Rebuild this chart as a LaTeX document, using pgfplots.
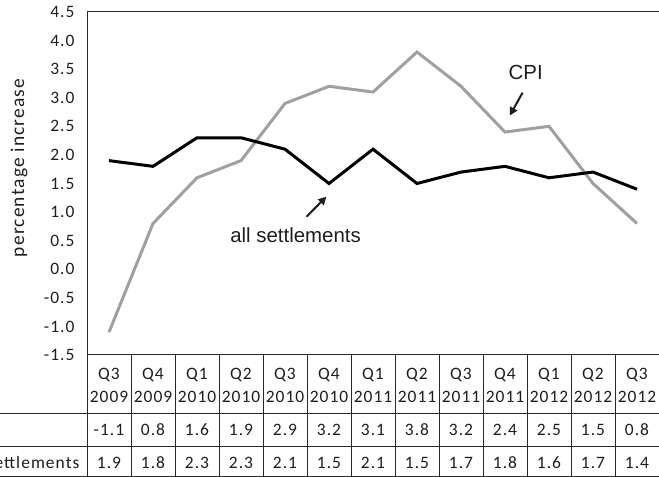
\documentclass[border=0pt]{standalone}
\usepackage{fontspec}
\setmainfont{Carlito}
\newfontfamily\tabfont[LetterSpace=6]{Carlito}
\newfontfamily\arialfont{Liberation Sans}
\usepackage{pgfplots}
\pgfplotsset{compat=1.18}
\usepackage{pgfplotstable}
\usetikzlibrary{arrows.meta}

\definecolor{cpigray}{RGB}{160,160,160}
\definecolor{frame}{RGB}{40,40,40}
\definecolor{txt}{RGB}{30,30,30}

% quarter, year, CPI, all settlements
\pgfplotstableread{
x q yr cpi all
0 Q3 2009 -1.1 1.9
1 Q4 2009 0.8 1.8
2 Q1 2010 1.6 2.3
3 Q2 2010 1.9 2.3
4 Q3 2010 2.9 2.1
5 Q4 2010 3.2 1.5
6 Q1 2011 3.1 2.1
7 Q2 2011 3.8 1.5
8 Q3 2011 3.2 1.7
9 Q4 2011 2.4 1.8
10 Q1 2012 2.5 1.6
11 Q2 2012 1.5 1.7
12 Q3 2012 0.8 1.4
}\data

\begin{document}
\begin{tikzpicture}
\useasboundingbox (0,0) rectangle (659bp,477bp);
\begin{axis}[
  at={(87bp,122bp)}, anchor=south west,
  scale only axis, width=572bp, height=343bp,
  xmin=-0.5, xmax=12.5, ymin=-1.5, ymax=4.5,
  xtick=\empty,
  ytick={-1.5,-1,...,4.5},
  yticklabels={-1.5,-1.0,-0.5,0.0,0.5,1.0,1.5,2.0,2.5,3.0,3.5,4.0,4.5},
  yticklabel style={font=\fontsize{17.5}{20}\selectfont\tabfont, text=txt, xshift=-9bp},
  major tick length=0pt,
  axis line style={frame, line width=1bp},
  clip=false,
]
\addplot[cpigray, line width=3bp] table[x=x,y=cpi]{\data};
\addplot[black, line width=3bp] table[x=x,y=all]{\data};

\node[font=\fontsize{20.5}{24}\selectfont\arialfont, text=txt] at (axis cs:4.24,0.6) {all settlements};
\node[font=\fontsize{20.5}{24}\selectfont\arialfont, text=txt] at (axis cs:9.47,3.44) {CPI};
\draw[txt, line width=2bp, -{Triangle[length=8bp,width=8bp]}] (axis cs:4.49,0.92) -- (axis cs:4.94,1.27);
\draw[txt, line width=2bp, -{Triangle[length=8bp,width=8bp]}] (axis cs:9.40,3.09) -- (axis cs:9.11,2.69);
\end{axis}

% y label
\node[rotate=90, font=\fontsize{19.5}{22}\selectfont\tabfont, text=txt] at (19bp,309bp) {percentage increase};

% data table below the plot
\draw[frame, line width=1bp] (87bp,122bp) -- (87bp,0bp);
\foreach \k in {1,...,13}{
  \pgfmathsetmacro\xx{87+44*\k}
  \draw[frame, line width=1bp] (\xx bp,122bp) -- (\xx bp,0bp);
}
\draw[frame, line width=1bp] (0bp,63bp) -- (659bp,63bp);
\draw[frame, line width=1bp] (0bp,30bp) -- (659bp,30bp);
\draw[frame, line width=1bp] (0bp,0.5bp) -- (659bp,0.5bp);

\foreach \i in {0,...,12}{
  \pgfmathsetmacro\xc{87+44*\i+22}
  \pgfplotstablegetelem{\i}{q}\of\data \let\vq\pgfplotsretval
  \pgfplotstablegetelem{\i}{yr}\of\data \let\vy\pgfplotsretval
  \pgfplotstablegetelem{\i}{cpi}\of\data \let\vc\pgfplotsretval
  \pgfplotstablegetelem{\i}{all}\of\data \let\va\pgfplotsretval
  \begin{scope}[every node/.style={font=\fontsize{17.5}{20}\selectfont\tabfont, text=txt}]
    \node at (\xc bp,102bp) {\vq};
    \node at (\xc bp,80bp) {\vy};
    \node at (\xc bp,47bp) {\vc};
    \node at (\xc bp,14bp) {\va};
  \end{scope}
}
\node[anchor=east, font=\fontsize{17.5}{20}\selectfont\tabfont, text=txt] (lab) at (83bp,14bp) {all settlements};
\node[anchor=west, font=\fontsize{17.5}{20}\selectfont\tabfont, text=txt] at (lab.west |- 0,47bp) {CPI};
\end{tikzpicture}
\end{document}
